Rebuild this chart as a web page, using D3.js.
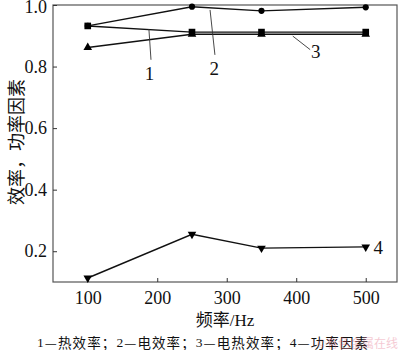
<!DOCTYPE html>
<html><head><meta charset="utf-8">
<script src="https://cdn.jsdelivr.net/npm/d3@7"></script>
<style>body{margin:0;background:#fff}svg{display:block}text{font-family:"Liberation Serif","Times New Roman","Noto Sans CJK SC",serif;fill:#111}</style>
</head><body><svg id="c" width="400" height="350"></svg>
<script>
const freqs = [100, 250, 350, 500];
const thermalEff = [0.932, 0.912, 0.912, 0.912];      // 1
const electricEff = [0.932, 0.9945, 0.981, 0.9925];   // 2
const elecThermalEff = [0.862, 0.905, 0.905, 0.905];  // 3
const powerFactor = [0.113, 0.255, 0.21, 0.214];      // 4
const xTicks = [100, 200, 300, 400, 500];
const yTicks = [0.2, 0.4, 0.6, 0.8, 1.0];
const xTitle = "频率/Hz";
const yTitle = "效率，功率因素";
const caption = "1—热效率；2—电效率；3—电热效率；4—功率因素";
const watermark = "©有色金属在线";
const labels = [
  {t:"1", x:189, y:0.777, lx1:188, ly1:0.922, lx2:191, ly2:0.822},
  {t:"2", x:282, y:0.795, lx1:276, ly1:0.984, lx2:283, ly2:0.838},
  {t:"3", x:428, y:0.848, lx1:395, ly1:0.899, lx2:420, ly2:0.855},
  {t:"4", x:518, y:0.213}
];

const svg = d3.select("#c");
const L=53, R=397, T=5, B=282;
const x = d3.scaleLinear().domain([50,545]).range([L,R]);
const y = d3.scaleLinear().domain([0.1,1.0]).range([B,T]);

svg.append("rect").attr("x",L).attr("y",T).attr("width",R-L).attr("height",B-T)
  .attr("fill","none").attr("stroke","#555").attr("stroke-width",1.2);

const gx = svg.append("g").attr("transform",`translate(0,${B})`)
  .call(d3.axisBottom(x).tickValues(xTicks).tickSize(-4).tickPadding(9).tickFormat(d3.format("d")));
const gy = svg.append("g").attr("transform",`translate(${L},0)`)
  .call(d3.axisLeft(y).tickValues(yTicks).tickSize(-4).tickPadding(6).tickFormat(d3.format(".1f")));
[gx,gy].forEach(g=>{g.select(".domain").remove();
  g.selectAll("line").attr("stroke","#333");
  g.selectAll("text").style("font-size","18px").attr("fill","#111")
   .style("font-family",'"Liberation Serif","Times New Roman",serif');});
gx.selectAll("text").attr("dy","0.71em");
gy.selectAll("text").filter(d=>d===1.0).attr("dy","0.40em");

const line = d3.line().x((d,i)=>x(freqs[i])).y(d=>y(d));
const series = [
  {v:elecThermalEff, m:"tri"},
  {v:thermalEff, m:"sq"},
  {v:electricEff, m:"circ"},
  {v:powerFactor, m:"tridown"}
];
series.forEach(s=>{
  svg.append("path").datum(s.v).attr("d",line).attr("fill","none")
    .attr("stroke","#111").attr("stroke-width",1.4);
});
const sym = {tri:d3.symbol(d3.symbolTriangle,32), sq:d3.symbol(d3.symbolSquare,44),
  circ:d3.symbol(d3.symbolCircle,30), tridown:d3.symbol(d3.symbolTriangle,32)};
series.forEach(s=>{
  svg.append("g").selectAll("path").data(s.v).join("path")
    .attr("d",sym[s.m])
    .attr("transform",(d,i)=>`translate(${x(freqs[i])},${y(d)})${s.m==="tridown"?" rotate(180)":""}`)
    .attr("fill","#000");
});

labels.forEach(a=>{
  if(a.lx1!==undefined) svg.append("line").attr("x1",x(a.lx1)).attr("y1",y(a.ly1))
    .attr("x2",x(a.lx2)).attr("y2",y(a.ly2)).attr("stroke","#333").attr("stroke-width",0.9);
  svg.append("text").attr("x",x(a.x)).attr("y",y(a.y)).attr("text-anchor","middle")
    .attr("dominant-baseline","central").style("font-size","19px").text(a.t);
});

svg.append("text").attr("x",225).attr("y",320).attr("text-anchor","middle")
  .attr("dominant-baseline","central").style("font-size","17px").text(xTitle);
svg.append("text").attr("transform","translate(17,142) rotate(-90)").attr("text-anchor","middle")
  .attr("dominant-baseline","central").style("font-size","18px").text(yTitle);

const cap = svg.append("text").attr("x",37).attr("y",342).attr("text-anchor","start")
  .attr("dominant-baseline","central").style("font-size","13.5px")
  .attr("textLength",331).attr("lengthAdjust","spacing");
caption.split("").forEach(ch=>{
  cap.append("tspan").style("font-family", /[0-9]/.test(ch) ? '"Liberation Serif",serif' : '"Noto Sans CJK SC",sans-serif')
    .text(ch);
});
svg.append("text").attr("x",398).attr("y",344).attr("text-anchor","end")
  .attr("dominant-baseline","central").style("font-size","12px").style("opacity",0.3)
  .style("fill","#e05070").text(watermark);
</script></body></html>
